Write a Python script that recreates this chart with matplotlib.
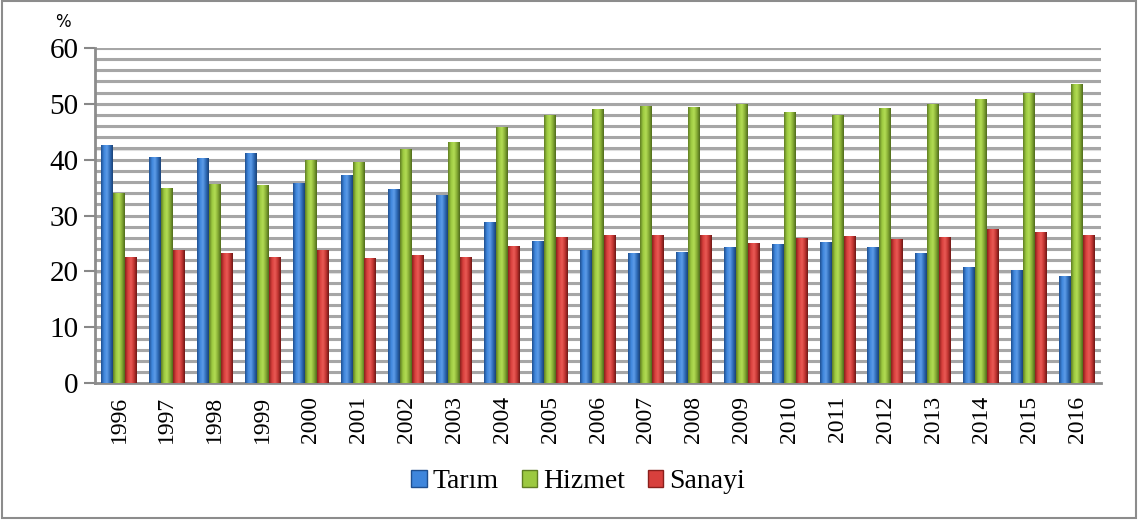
import numpy as np
import matplotlib
matplotlib.use("Agg")
import matplotlib.pyplot as plt
from matplotlib.patches import Rectangle
from matplotlib.colors import LinearSegmentedColormap

years = [str(y) for y in range(1996, 2017)]
tarim = [42.6, 40.5, 40.3, 41.2, 35.8, 37.3, 34.7, 33.7, 28.8, 25.4, 23.8,
         23.3, 23.5, 24.4, 24.9, 25.3, 24.4, 23.3, 20.8, 20.2, 19.2]
hizmet = [34.0, 34.9, 35.6, 35.5, 39.9, 39.6, 41.9, 43.2, 45.9, 48.0, 49.0,
          49.6, 49.4, 50.0, 48.5, 47.9, 49.2, 50.0, 50.9, 51.9, 53.5]
sanayi = [22.6, 23.8, 23.3, 22.5, 23.8, 22.4, 22.9, 22.5, 24.5, 26.1, 26.5,
          26.5, 26.5, 25.1, 26.0, 26.3, 25.8, 26.1, 27.6, 27.0, 26.5]

series = [("Tarım", tarim, ["#1f4f8f", "#3f86dc", "#5d9ce8", "#2f6cb8", "#1a4277"]),
          ("Hizmet", hizmet, ["#5f7d22", "#9cc940", "#b3dc55", "#86ad35", "#4f6a1c"]),
          ("Sanayi", sanayi, ["#8a1f1c", "#d8403d", "#ea5a55", "#c33532", "#6e1715"])]

serif = ["Liberation Serif", "DejaVu Serif"]

fig = plt.figure(figsize=(11.38, 5.2), dpi=100)
ax = fig.add_axes([0.0835, 0.263, 0.884, 0.645])

x = np.arange(len(years))
w = 0.25
grad = np.linspace(0, 1, 64).reshape(1, -1)

for i, (name, vals, cols) in enumerate(series):
    cmap = LinearSegmentedColormap.from_list(name, cols)
    bars = ax.bar(x + (i - 1) * w, vals, width=w, color=cols[1],
                  label=name, zorder=3, edgecolor="none")
    for b in bars:
        bx, by = b.get_x(), b.get_y()
        bw, bh = b.get_width(), b.get_height()
        im = ax.imshow(grad, cmap=cmap, aspect="auto", zorder=3,
                       extent=[bx, bx + bw, by, by + bh], interpolation="bilinear")
        im.set_clip_path(b)

ax.set_xlim(-0.5, len(years) - 0.5)
ax.set_ylim(0, 60)

# gridlines every 2 units with a light shadow
for g in np.arange(2, 61, 2):
    ax.axhline(g - 0.2, color="#e0e0e0", lw=1.5, zorder=1)
    ax.axhline(g, color="#a6a6a6", lw=2.2, zorder=1.5)

ax.set_yticks(np.arange(0, 61, 10))
ax.set_yticklabels([str(v) for v in range(0, 61, 10)], family=serif, fontsize=21)
ax.tick_params(axis="y", length=8, width=1.5, color="#888888", pad=4)
ax.set_xticks(x)
ax.set_xticklabels(years, rotation=90, family=serif, fontsize=17)
ax.tick_params(axis="x", length=0, pad=9)

for s in ["top", "right"]:
    ax.spines[s].set_visible(False)
for s in ["left", "bottom"]:
    ax.spines[s].set_color("#8c8c8c")
    ax.spines[s].set_linewidth(2)

fig.text(0.055, 0.958, "%", fontsize=12, ha="center", va="center")

handles = [Rectangle((0, 0), 1, 1, facecolor=c[1], edgecolor=c[0], lw=1)
           for _, _, c in series]
fig.legend(handles, [s[0] for s in series], loc="center", ncol=3,
           bbox_to_anchor=(0.508, 0.074), frameon=False,
           prop={"family": serif, "size": 20}, handlelength=0.55,
           handleheight=0.55, handletextpad=0.2, columnspacing=0.85)

fig.patches.append(Rectangle((0.002, 0.004), 0.996, 0.994, transform=fig.transFigure,
                             fill=False, edgecolor="#8c8c8c", lw=1.5))

fig.savefig("out.png", dpi=100)
